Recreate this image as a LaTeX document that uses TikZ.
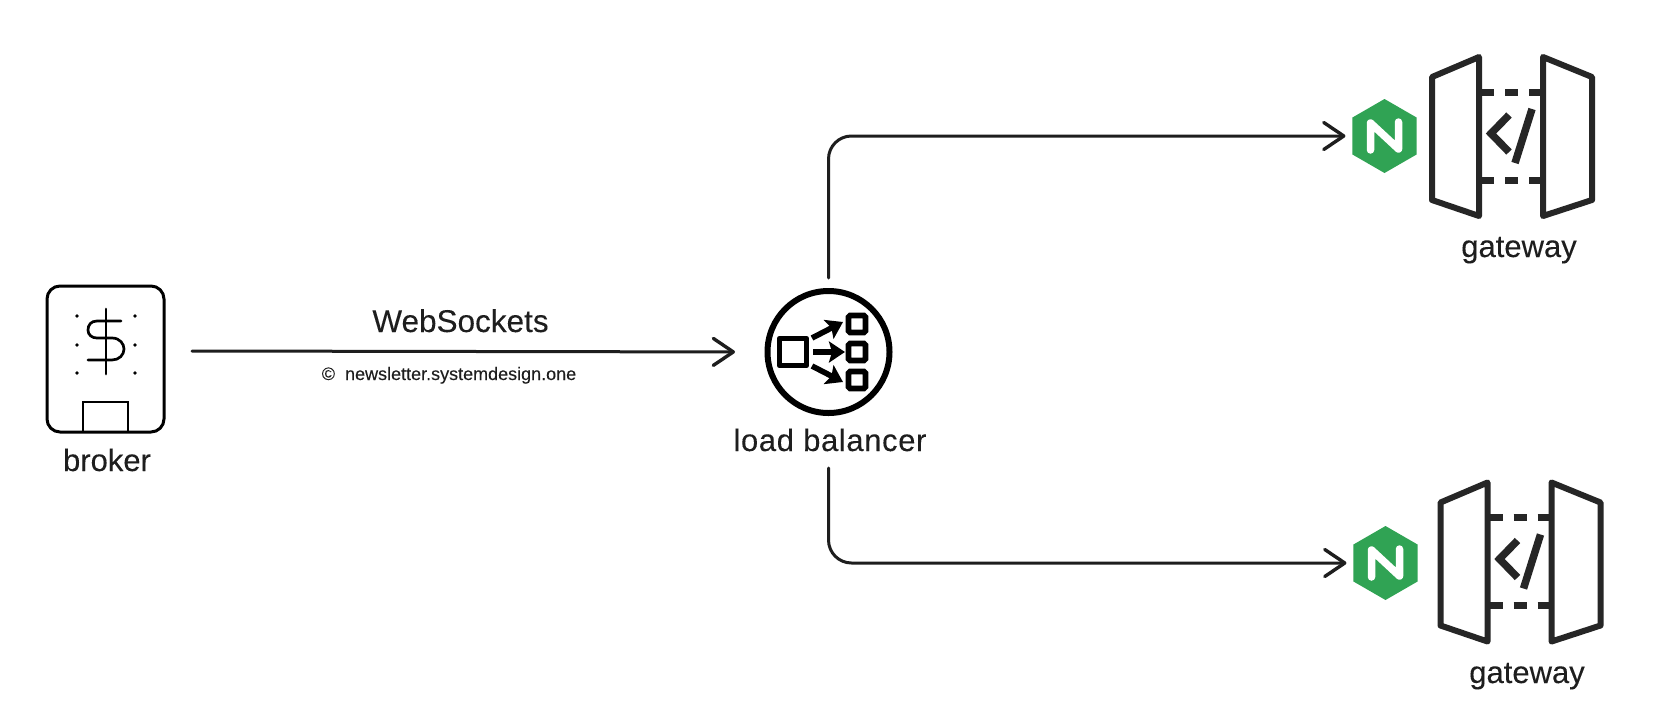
\documentclass[tikz,border=0pt]{standalone}
\usepackage{fontspec}
\setmainfont[FakeBold=0.12]{Liberation Sans}
\newfontfamily\lbfont[LetterSpace=2,FakeBold=0.12]{Liberation Sans}
\usetikzlibrary{arrows.meta,shapes.geometric}
\definecolor{ink}{HTML}{1E1E1E}
\definecolor{gateink}{HTML}{262626}
\definecolor{nginxgreen}{HTML}{30A354}
\tikzset{
  conn/.style={draw=ink,line width=3pt,line cap=round,
    -{Straight Barb[length=20pt,width=27pt,line width=3.4pt,round]}},
  label/.style={anchor=base,text=ink,inner sep=0pt,outer sep=0pt,font=\fontsize{31}{36}\selectfont},
  nginx/.style={regular polygon,regular polygon sides=6,regular polygon rotate=30,
    minimum size=74pt,inner sep=0pt,outer sep=0pt,fill=nginxgreen},
  iconline/.style={draw=black,line width=5.6pt},
  iconarrow/.style={draw=black,line width=5.6pt,-{Stealth[length=16pt,width=21pt,inset=3pt]}},
  gateline/.style={draw=gateink,line width=6pt,line join=round,line cap=round},
  gatedash/.style={draw=gateink,line width=7pt},
  gatecode/.style={draw=gateink,line width=7.5pt,line join=miter},
  gatewayicon/.pic={
    \draw[gateline] (1432,77) -- (1479,57) -- (1479,216) -- (1432,200) -- cycle;
    \draw[gateline] (1543,57) -- (1592,77) -- (1592,200) -- (1543,216) -- cycle;
    \foreach \yy in {92,180} {
      \draw[gatedash] (1479,\yy) -- (1494,\yy);
      \draw[gatedash] (1505,\yy) -- (1518,\yy);
      \draw[gatedash] (1529,\yy) -- (1543,\yy);
    }
    \draw[gatecode] (1509,115) -- (1491,133.5) -- (1509,152);
    \draw[gatecode] (1532,109) -- (1515,163);
  },
  nginxn/.pic={
    \draw[white,line width=7.5pt,line cap=round,line join=round]
      (-14,14) -- (-14,-13) -- (14,13) -- (14,-14);
  },
}
\begin{document}
\begin{tikzpicture}[x=1pt,y=-1pt]
\useasboundingbox[fill=white] (0,0) rectangle (1657,718);

% broker
\node[draw=black,line width=3pt,rounded corners=13pt,minimum width=117pt,minimum height=146pt,
  inner sep=0pt,outer sep=0pt] (broker) at (105.5,359) {};
\draw[black,line width=2.8pt] (83,432) -- (83,402) -- (128,402) -- (128,432);
\draw[black,line width=2.7pt,line cap=round] (106,309) -- (106,374);
\draw[black,line width=2.7pt,line cap=round] (121,321) -- (97,321)
  .. controls (91,321) and (88,325) .. (88,330)
  .. controls (88,335) and (92,338) .. (97,338) -- (112,338)
  .. controls (120,338) and (124,344) .. (124,349)
  .. controls (124,355) and (119,360) .. (112,360) -- (88,360);
\foreach \xx in {77,135} \foreach \yy in {316,345,373}
  \fill[black] (\xx,\yy) circle[radius=1.8pt];
\node[label] (brokerlabel) at (107,471) {broker};
\coordinate (brokerout) at (192,351);

% load balancer
\node[circle,draw=black,line width=6pt,minimum size=122pt,inner sep=0pt,outer sep=0pt] (lb) at (828.5,352) {};
\draw[iconline,line join=round] (779.5,338.5) rectangle (806.5,365.5);
\foreach \yy in {324,352,380}
  \draw[iconline,rounded corners=1.5pt] (848.5,\yy-8.5) rectangle (865.5,\yy+8.5);
\draw[iconarrow] (812,338) -- (843,322);
\draw[iconarrow] (813,352) -- (845,352);
\draw[iconarrow] (812,366) -- (843,382);
\node[label,font=\lbfont\fontsize{31}{36}\selectfont] (lblabel) at (830,451) {load balancer};

% gateways
\pic at (0,0) {gatewayicon};
\pic at (8.5,425.5) {gatewayicon};
\node[nginx] (nginxa) at (1384.5,136) {};
\node[nginx] (nginxb) at (1385.5,563) {};
\pic at (nginxa) {nginxn};
\pic at (nginxb) {nginxn};
\node[label] (gatea) at (1519,257) {gateway};
\node[label] (gateb) at (1527,683) {gateway};

% connectors
\draw[conn,shorten >=32.5pt] (brokerout) -- (lb.west);
\draw[conn,rounded corners=23pt,shorten <=13pt,shorten >=7pt] (lb.north) |- (nginxa.west);
\draw[conn,rounded corners=23pt,shorten <=55pt,shorten >=7pt] (lb.south) |- (nginxb.west);

% labels on the link
\node[label,font=\fontsize{31.5}{36}\selectfont] (ws) at (460.5,332) {WebSockets};
\node[label,font=\fontsize{18}{22}\selectfont] (credit) at (449,380) {©\hspace{10pt}newsletter.systemdesign.one};
\end{tikzpicture}
\end{document}
